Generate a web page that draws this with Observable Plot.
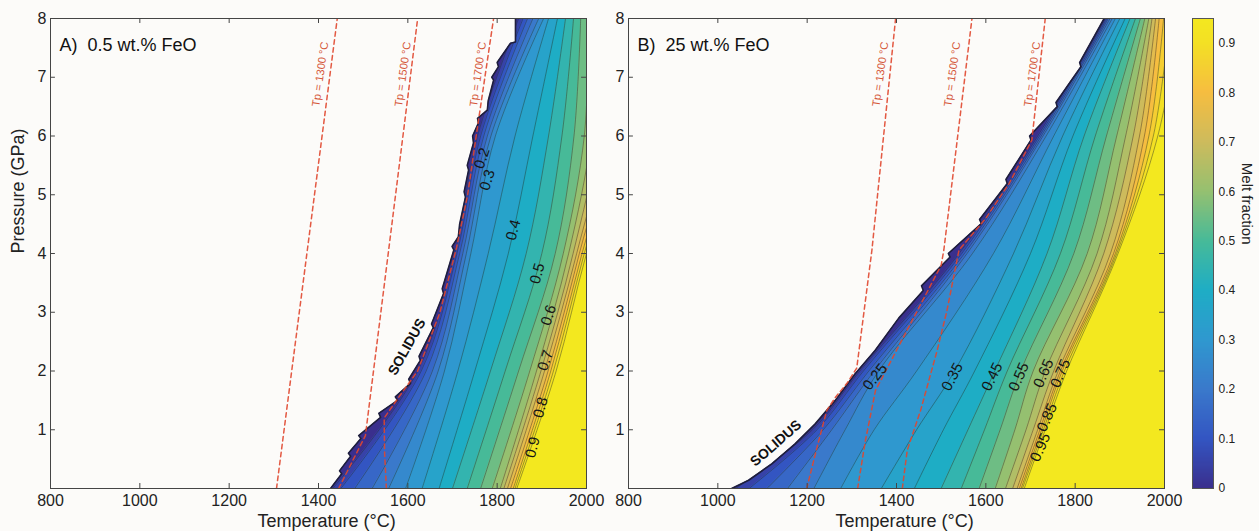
<!DOCTYPE html>
<html><head><meta charset="utf-8">
<script src="https://cdn.jsdelivr.net/npm/d3@7"></script>
<script src="https://cdn.jsdelivr.net/npm/@observablehq/plot@0.6"></script>
<style>
html,body{margin:0;padding:0;background:#fcfbf9;}
#wrap{position:relative;width:1259px;height:531px;overflow:hidden;}
#wrap > div{position:absolute;top:0;}
</style></head><body>
<div id="wrap"><div id="pa" style="left:0px"></div><div id="pb" style="left:600px"></div><div id="cb" style="left:1180px"></div></div>
<script>
// ---------- data ----------
const xTicks = [800, 1000, 1200, 1400, 1600, 1800, 2000];
const yTicks = [1, 2, 3, 4, 5, 6, 7, 8];
const cbTicks = [0, 0.1, 0.2, 0.3, 0.4, 0.5, 0.6, 0.7, 0.8, 0.9];
const levels = [0.05,0.10,0.15,0.20,0.25,0.30,0.35,0.40,0.45,0.50,0.55,0.60,0.65,0.70,0.75,0.80,0.85,0.90,0.95];

// Panel A (0.5 wt.% FeO): isopleth temperatures (°C) at these pressures (GPa)
const pressuresA = [0, 2, 4, 6, 8];
const isoA = [
  [1432,1622,1705,1756,1848],
  [1450,1630,1710,1763,1858],
  [1481,1641,1716,1770,1868],
  [1520,1655,1723,1778,1880],
  [1557,1668,1731,1786,1893],
  [1595,1682,1741,1796,1904],
  [1632,1712,1780,1840,1915],
  [1670,1750,1825,1880,1935],
  [1700,1785,1865,1915,1953],
  [1733,1818,1900,1945,1971],
  [1763,1848,1930,1972,1987],
  [1789,1873,1948,1995,2005],
  [1807,1888,1960,2010,2020],
  [1815,1898,1970,2025,2035],
  [1823,1906,1978,2040,2050],
  [1830,1914,1984,2050,2060],
  [1836,1920,1990,2060,2070],
  [1840,1926,1995,2070,2080],
  [1844,1932,2000,2080,2090]
];
const solidusA_P = [0, 0.25, 0.3, 0.55, 0.6, 0.85, 0.9, 1.21, 1.28, 1.5, 1.56, 1.79, 1.86, 2.18, 2.25, 2.74, 2.8, 3.32, 3.4, 4.06, 4.12, 4.28, 4.5, 4.96, 5.05, 5.42, 5.5, 5.88, 6.0, 6.22, 6.3, 6.44, 6.6, 6.95, 7.0, 7.18, 7.25, 7.58, 7.6, 8];
const solidusA_T = [1427, 1452, 1447, 1472, 1467, 1495, 1490, 1539, 1535, 1577, 1572, 1606, 1602, 1628, 1625, 1657, 1653, 1680, 1677, 1703, 1699, 1713, 1716, 1729, 1726, 1736, 1733, 1747, 1745, 1758, 1756, 1778, 1780, 1792, 1788, 1803, 1800, 1830, 1841, 1841];

// Panel B (25 wt.% FeO)
const pressuresB = [0, 1, 2, 4, 6, 8];
const isoB = [
  [1040,1212,1318,1540,1716,1868],
  [1070,1222,1326,1546,1720,1871],
  [1110,1236,1338,1552,1724,1874],
  [1156,1255,1350,1558,1728,1878],
  [1215,1285,1360,1570,1735,1883],
  [1275,1350,1445,1617,1752,1890],
  [1366,1445,1530,1662,1772,1900],
  [1440,1505,1575,1700,1795,1912],
  [1500,1560,1620,1737,1820,1923],
  [1545,1597,1648,1767,1845,1935],
  [1585,1632,1678,1797,1870,1946],
  [1621,1665,1706,1827,1893,1956],
  [1644,1690,1733,1849,1913,1965],
  [1660,1706,1752,1864,1930,1972],
  [1670,1716,1762,1879,1944,1980],
  [1675,1721,1767,1886,1955,1988],
  [1679,1725,1771,1890,1965,1998],
  [1682,1729,1776,1893,1975,2012],
  [1686,1733,1781,1896,1985,2035]
];
const solidusB_P = [0, 0.14, 0.42, 0.76, 1.10, 1.50, 1.95, 2.35, 2.9, 3.37, 3.45, 3.94, 4.0, 4.51, 4.58, 5.19, 5.26, 5.93, 6.0, 6.50, 6.57, 7.18, 7.25, 8.0];
const solidusB_T = [1031, 1069, 1121, 1173, 1218, 1263, 1307, 1352, 1405, 1460, 1456, 1520, 1516, 1590, 1586, 1648, 1645, 1701, 1698, 1760, 1757, 1813, 1810, 1865];

// Mantle adiabats (Tp) as drawn
const tpA1300_P = [0, 8];                 const tpA1300_T = [1306, 1442];
const tpA1500_P = [0, 0.9, 8];            const tpA1500_T = [1445, 1505, 1622];
const tpA1700_P = [0, 0.6, 1.2, 1.6, 2.0, 3.0, 4.1, 5.0, 6.0, 8];
const tpA1700_T = [1552, 1548, 1547, 1584, 1622, 1672, 1709, 1734, 1753, 1792];
const tpB1300_P = [0, 0.7, 1.33, 1.55, 1.8, 2.05, 4.06, 8];
const tpB1300_T = [1199, 1222, 1244, 1263, 1290, 1311, 1345, 1398];
const tpB1500_P = [0, 0.8, 1.67, 3.8, 4.06, 8];
const tpB1500_T = [1313, 1330, 1353, 1500, 1506, 1569];
const tpB1700_P = [0, 0.65, 1.33, 2.35, 3.03, 4.06, 4.6, 5.19, 5.93, 8];
const tpB1700_T = [1413, 1424, 1454, 1491, 1513, 1540, 1600, 1652, 1703, 1733];

const tpText = ["Tp = 1300 °C", "Tp = 1500 °C", "Tp = 1700 °C"];
const tpLabelA_T = [1404, 1589, 1757]; const tpLabelA_P = [7.05, 7.05, 7.05];
const tpLabelB_T = [1364, 1525, 1704]; const tpLabelB_P = [7.05, 7.05, 7.05];

const cLabA_text = ["0.2","0.3","0.4","0.5","0.6","0.7","0.8","0.9"];
const cLabA_T = [1766, 1778, 1836, 1890, 1915, 1908, 1897, 1879];
const cLabA_P = [5.62, 5.25, 4.40, 3.66, 2.95, 2.18, 1.38, 0.70];
const cLabA_angle = [-72, -72, -75, -75, -72, -72, -75, -75];
const cLabB_text = ["0.25","0.35","0.45","0.55","0.65","0.75","0.85","0.95"];
const cLabB_T = [1352, 1525, 1614, 1674, 1729, 1767, 1737, 1722];
const cLabB_P = [1.90, 1.90, 1.90, 1.90, 1.96, 1.96, 1.21, 0.70];
const cLabB_angle = [-52, -62, -64, -66, -66, -66, -66, -66];

const solLabA = {T: 1598, P: 2.41, angle: -61};
const solLabB = {T: 1130, P: 0.77, angle: -41};

// ---------- styles ----------
const BG = "#fcfbf9";
// parula-like colormap, slightly muted as in the figure
const cmapDomain = [0, 0.1, 0.2, 0.3, 0.4, 0.5, 0.6, 0.7, 0.8, 0.9, 0.95];
const cmapRange = ["#3a2f8d", "#3355c2", "#3a79cb", "#2f98cf", "#1eadc5", "#47ba98", "#95c070", "#cdbb5c", "#f6bd40", "#f3e024", "#f3e81f"];
const CMAX = 0.95;
const colorOpts = {type: "linear", domain: cmapDomain, range: cmapRange, clamp: true, interpolate: d3.interpolateRgb};
const FONT = "'Liberation Sans', Arial, Helvetica, sans-serif";
const AX = "#454545";
const RED = "#e0472f";

function rowsOf(P, T, extra = {}) { return P.map((p, i) => ({P: p, T: T[i], ...extra})); }

function panel(cfg) {
  const solRows = rowsOf(cfg.solP, cfg.solT, {level: 0});
  const isoRows = levels.map((lv, j) => rowsOf(cfg.pres, cfg.iso[j], {level: lv}));
  const tpRows = cfg.tp.map(a => rowsOf(a[0], a[1]));
  const tpLab = tpText.map((t, i) => ({text: t, T: cfg.tpLabT[i], P: cfg.tpLabP[i]}));
  const cLab = cfg.cText.map((t, i) => ({text: t, T: cfg.cT[i], P: cfg.cP[i], angle: cfg.cAngle[i]}));
  const marks = [];
  marks.push(Plot.areaX(solRows, {y: "P", x1: "T", x2: () => 2000, fill: "level", clip: true}));
  for (const rows of isoRows) marks.push(Plot.areaX(rows, {y: "P", x1: "T", x2: () => 2000, fill: "level", curve: "catmull-rom", clip: true}));
  for (const rows of isoRows) marks.push(Plot.lineX(rows, {y: "P", x: "T", stroke: "#2a2a2a", strokeOpacity: 0.55, strokeWidth: 0.8, curve: "catmull-rom", clip: true}));
  marks.push(Plot.areaX(solRows, {y: "P", x1: () => 800, x2: "T", fill: BG, clip: true}));
  marks.push(Plot.lineX(solRows, {y: "P", x: "T", stroke: "#1f1f3d", strokeWidth: 1.6, clip: true}));
  for (const rows of tpRows) marks.push(Plot.lineX(rows, {y: "P", x: "T", stroke: RED, strokeWidth: 1.5, strokeDasharray: "4.5,3.5", strokeOpacity: 0.9, clip: true}));
  marks.push(Plot.text(tpLab, {x: "T", y: "P", text: "text", rotate: -82, fill: "#d5573a", fontSize: 11}));
  marks.push(Plot.text(cLab, {x: "T", y: "P", text: "text", rotate: "angle", fill: "#151515", fontSize: 15}));
  marks.push(Plot.text([cfg.solLab], {x: "T", y: "P", text: () => "SOLIDUS", rotate: cfg.solLab.angle, fill: "#111", fontSize: 14, fontWeight: "bold"}));
  // frame and inward ticks
  marks.push(Plot.frame({stroke: AX, strokeWidth: 1}));
  marks.push(Plot.ruleX(xTicks, {x: d => d, y1: () => 0, y2: () => 0.085, stroke: AX}));
  marks.push(Plot.ruleX(xTicks, {x: d => d, y1: () => 8 - 0.085, y2: () => 8, stroke: AX}));
  marks.push(Plot.ruleY(yTicks, {y: d => d, x1: () => 800, x2: () => 811, stroke: AX}));
  marks.push(Plot.ruleY(yTicks, {y: d => d, x1: () => 1989, x2: () => 2000, stroke: AX}));
  marks.push(Plot.axisX(xTicks, {tickSize: 0, tickPadding: 6, fontSize: 16, tickFormat: d => String(d), label: null}));
  marks.push(Plot.axisY(yTicks, {tickSize: 0, tickPadding: 4, fontSize: 16, tickFormat: d => String(d), label: null}));
  marks.push(Plot.text([cfg.title], {text: d => d, frameAnchor: "top-left", dx: 9, dy: 32, lineAnchor: "bottom", textAnchor: "start", fontSize: 18, fill: "#111"}));
  marks.push(Plot.text(["Temperature (°C)"], {text: d => d, frameAnchor: "bottom", dx: 8, dy: 38, lineAnchor: "bottom", fontSize: 18, fill: "#222"}));
  if (cfg.yLabel) marks.push(Plot.text(["Pressure (GPa)"], {text: d => d, frameAnchor: "left", dx: -32, rotate: -90, fontSize: 18, fill: "#222"}));
  return Plot.plot({
    width: cfg.width, height: 531,
    marginLeft: cfg.ml, marginRight: cfg.mr, marginTop: 18, marginBottom: 43,
    x: {domain: [800, 2000]},
    y: {domain: [0, 8]},
    color: colorOpts,
    style: {background: "transparent", fontFamily: FONT, color: "#222", overflow: "visible"},
    marks
  });
}

const plotA = panel({
  width: 600, ml: 50, mr: 14, pres: pressuresA, iso: isoA, solP: solidusA_P, solT: solidusA_T,
  tp: [[tpA1300_P, tpA1300_T], [tpA1500_P, tpA1500_T], [tpA1700_P, tpA1700_T]],
  tpLabT: tpLabelA_T, tpLabP: tpLabelA_P,
  cText: cLabA_text, cT: cLabA_T, cP: cLabA_P, cAngle: cLabA_angle,
  solLab: solLabA, title: "A)\u00a0 0.5 wt.% FeO", yLabel: true
});
const plotB = panel({
  width: 600, ml: 28, mr: 36, pres: pressuresB, iso: isoB, solP: solidusB_P, solT: solidusB_T,
  tp: [[tpB1300_P, tpB1300_T], [tpB1500_P, tpB1500_T], [tpB1700_P, tpB1700_T]],
  tpLabT: tpLabelB_T, tpLabP: tpLabelB_P,
  cText: cLabB_text, cT: cLabB_T, cP: cLabB_P, cAngle: cLabB_angle,
  solLab: solLabB, title: "B)\u00a0 25 wt.% FeO", yLabel: false
});
document.getElementById("pa").appendChild(plotA);
document.getElementById("pb").appendChild(plotB);

// colour bar
const cbSteps = d3.range(0, CMAX, 0.0025);
const cb = Plot.plot({
  width: 79, height: 531, marginLeft: 12, marginRight: 46, marginTop: 18, marginBottom: 43,
  x: {domain: [0, 1], axis: null},
  y: {domain: [0, CMAX]},
  color: colorOpts,
  style: {background: "transparent", fontFamily: FONT, color: "#222", overflow: "visible"},
  marks: [
    Plot.rect(cbSteps, {x1: () => 0, x2: () => 1, y1: d => d, y2: d => Math.min(CMAX, d + 0.004), fill: d => d + 0.00125, shapeRendering: "crispEdges"}),
    Plot.frame({stroke: "#555", strokeWidth: 1}),
    Plot.axisY(cbTicks, {anchor: "right", tickSize: 0, tickPadding: 5, fontSize: 12, tickFormat: d => d === 0 ? "0" : d.toFixed(1), label: null}),
    Plot.text(["Melt fraction"], {text: d => d, frameAnchor: "right", dx: 33, dy: -9, rotate: 90, fontSize: 15, fill: "#222"})
  ]
});
document.getElementById("cb").appendChild(cb);
</script>
</body></html>
